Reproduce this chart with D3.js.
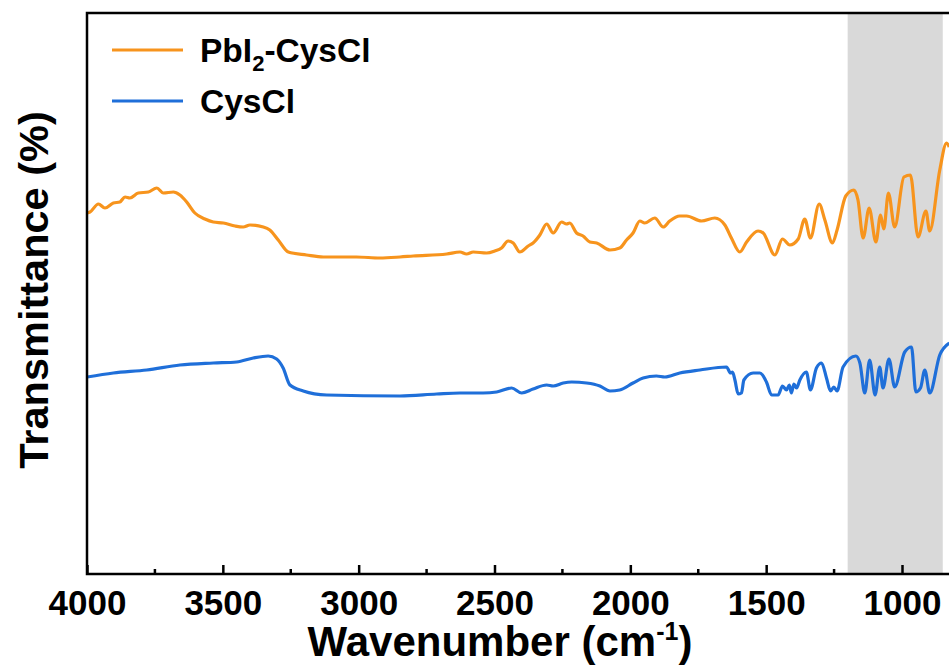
<!DOCTYPE html>
<html>
<head>
<meta charset="utf-8">
<script src="https://cdn.jsdelivr.net/npm/d3@7"></script>
<style>
  body { margin: 0; background: #fff; }
  svg { display: block; font-family: 'Liberation Sans', Arial, sans-serif; font-weight: bold; }
</style>
</head>
<body>
<svg id="chart" width="949" height="670"></svg>
<script>
// FTIR spectra (wavenumber in cm-1, transmittance in arbitrary units)
const pbWavenumber = [4000, 3989, 3958, 3934, 3903, 3879, 3860, 3842, 3811, 3774, 3743, 3719, 3682, 3658, 3633,
  3603, 3566, 3535, 3498, 3455, 3425, 3400, 3351, 3327, 3296, 3259, 3192, 3130, 3008, 2922, 2848, 2799, 2676,
  2627, 2603, 2578, 2529, 2499, 2474, 2450, 2431, 2407, 2376, 2358, 2333, 2308, 2284, 2253, 2235, 2223, 2198,
  2174, 2149, 2124, 2075, 2039, 2014, 1990, 1965, 1947, 1910, 1879, 1855, 1818, 1793, 1738, 1689, 1652, 1628,
  1597, 1572, 1530, 1511, 1468, 1440, 1413, 1382, 1358, 1337, 1305, 1284, 1256, 1239, 1207, 1177, 1162, 1143,
  1121, 1096, 1079, 1067, 1050, 1027, 993, 969, 941, 912, 898, 861, 836, 826];
const pbTransmittance = [36.1, 36.2, 37.0, 36.6, 37.1, 37.2, 37.7, 37.6, 38.1, 38.2, 38.6, 38.1, 38.2, 37.9, 37.2,
  36.1, 35.5, 35.2, 35.1, 34.8, 34.7, 34.9, 34.7, 34.4, 33.4, 32.2, 31.9, 31.7, 31.7, 31.6, 31.7, 31.8, 32.0,
  32.2, 32.0, 32.2, 32.1, 32.3, 32.6, 33.3, 33.1, 32.2, 32.8, 33.1, 33.9, 35.0, 34.1, 35.2, 35.0, 35.1, 34.1,
  33.8, 33.2, 33.1, 32.4, 32.6, 33.4, 34.1, 35.3, 35.1, 35.6, 34.7, 35.3, 35.8, 35.8, 35.3, 35.6, 34.9, 33.6,
  32.2, 33.2, 34.3, 34.1, 31.9, 33.5, 32.9, 33.5, 35.5, 33.6, 37.0, 35.4, 33.1, 34.4, 37.8, 38.4, 37.4, 33.6,
  36.6, 33.2, 35.9, 34.5, 38.1, 34.7, 39.7, 39.9, 33.7, 36.3, 34.3, 40.4, 43.1, 42.7];

const cysWavenumber = [4000, 3903, 3780, 3658, 3535, 3449, 3388, 3333, 3302, 3278, 3253, 3204, 3118, 2848, 2713,
  2627, 2542, 2492, 2437, 2400, 2358, 2308, 2284, 2247, 2216, 2161, 2112, 2075, 2039, 1990, 1953, 1904, 1873,
  1818, 1744, 1646, 1631, 1624, 1615, 1603, 1591, 1582, 1548, 1523, 1499, 1480, 1456, 1440, 1425, 1415, 1407,
  1398, 1388, 1376, 1352, 1337, 1315, 1296, 1278, 1263, 1251, 1239, 1217, 1170, 1155, 1137, 1119, 1099, 1082,
  1070, 1048, 1027, 990, 965, 949, 932, 916, 898, 861, 826];
const cysTransmittance = [19.7, 20.1, 20.4, 20.9, 21.1, 21.2, 21.6, 21.8, 21.5, 20.6, 18.9, 18.3, 17.9, 17.8, 18.0,
  18.1, 18.1, 18.2, 18.6, 18.1, 18.5, 18.9, 18.8, 19.1, 19.2, 19.1, 18.8, 18.3, 18.4, 19.1, 19.6, 19.8, 19.7,
  20.1, 20.4, 20.7, 20.1, 20.2, 19.4, 18.0, 18.1, 19.4, 20.1, 20.1, 19.2, 17.9, 17.9, 18.8, 18.4, 18.9, 18.1,
  19.0, 18.6, 19.4, 20.2, 18.4, 20.6, 21.1, 19.6, 18.3, 18.7, 18.3, 20.7, 21.8, 21.1, 18.1, 21.4, 17.9, 20.7,
  18.6, 21.5, 18.7, 22.2, 22.7, 18.2, 18.6, 20.4, 18.1, 21.9, 23.1];

const seriesNames = ['PbI2-CysCl', 'CysCl'];
const seriesColours = ['#F7941D', '#1F6FD9'];
const xTicks = [4000, 3500, 3000, 2500, 2000, 1500, 1000];
const xMinorTicks = [3750, 3250, 2750, 2250, 1750, 1250];
const shadedRange = [1200, 850];

const svg = d3.select('#chart');
const margin = { top: 13, left: 87 };
const innerWidth = 978;   // axis runs on to 400 cm-1, past the right edge of the picture
const innerHeight = 561;

const xScale = d3.scaleLinear().domain([4000, 400]).range([0, innerWidth]);
const yScale = d3.scaleLinear().domain([0, 56.1]).range([innerHeight, 0]);

const g = svg.append('g').attr('transform', `translate(${margin.left},${margin.top})`);

g.append('clipPath').attr('id', 'plot-clip')
  .append('rect').attr('width', innerWidth).attr('height', innerHeight);

// grey band behind the fingerprint region
g.append('rect')
  .attr('x', xScale(shadedRange[0]))
  .attr('width', xScale(shadedRange[1]) - xScale(shadedRange[0]))
  .attr('y', 0)
  .attr('height', innerHeight)
  .attr('fill', '#d9d9d9');

// spectra
const series = [
  { name: seriesNames[0], colour: seriesColours[0], wn: pbWavenumber, t: pbTransmittance },
  { name: seriesNames[1], colour: seriesColours[1], wn: cysWavenumber, t: cysTransmittance }
];
const lineGenerator = d3.line()
  .x(d => xScale(d[0]))
  .y(d => yScale(d[1]))
  .curve(d3.curveMonotoneX);

g.append('g').attr('clip-path', 'url(#plot-clip)')
  .selectAll('path').data(series).join('path')
    .attr('d', d => lineGenerator(d.wn.map((w, i) => [w, d.t[i]])))
    .attr('fill', 'none')
    .attr('stroke', d => d.colour)
    .attr('stroke-width', 3.2)
    .attr('stroke-linejoin', 'round');

// bottom axis, ticks pointing inward
const xAxis = g.append('g').attr('transform', `translate(0,${innerHeight})`)
  .call(d3.axisBottom(xScale).tickValues(xTicks).tickSize(-9).tickPadding(16).tickFormat(d3.format('d')));
xAxis.select('.domain').remove();
xAxis.selectAll('.tick line').attr('stroke', '#000').attr('stroke-width', 2.5);
xAxis.selectAll('.tick text')
  .attr('font-size', 35).attr('font-weight', 'bold').attr('font-family', "'Liberation Sans', Arial, sans-serif")
  .attr('fill', '#000');

g.append('g').selectAll('line').data(xMinorTicks).join('line')
  .attr('x1', d => xScale(d)).attr('x2', d => xScale(d))
  .attr('y1', innerHeight).attr('y2', innerHeight - 5)
  .attr('stroke', '#000').attr('stroke-width', 2.5);

// frame
g.append('rect')
  .attr('width', innerWidth).attr('height', innerHeight)
  .attr('fill', 'none').attr('stroke', '#000').attr('stroke-width', 2.5);

// legend
const legend = svg.append('g').attr('class', 'legend');
series.forEach((s, i) => {
  const y = 50 + i * 51;
  legend.append('line')
    .attr('x1', 112).attr('x2', 183).attr('y1', y).attr('y2', y)
    .attr('stroke', s.colour).attr('stroke-width', 3);
  const label = legend.append('text').attr('x', 200).attr('y', y + 12).attr('font-size', 33.5);
  if (s.name === 'PbI2-CysCl') {
    label.append('tspan').text('PbI');
    label.append('tspan').attr('dy', 9).attr('font-size', 22).text('2');
    label.append('tspan').attr('dy', -9).text('-CysCl');
  } else {
    label.text(s.name);
  }
});

// axis titles
const xTitle = svg.append('text')
  .attr('x', 500).attr('y', 656)
  .attr('text-anchor', 'middle')
  .attr('font-size', 42);
xTitle.append('tspan').text('Wavenumber (cm');
xTitle.append('tspan').attr('dy', -16).attr('font-size', 25).text('-1');
xTitle.append('tspan').attr('dy', 16).text(')');

svg.append('text')
  .attr('transform', 'translate(48,290) rotate(-90)')
  .attr('text-anchor', 'middle')
  .attr('font-size', 41.5)
  .text('Transmittance (%)');
</script>
</body>
</html>
